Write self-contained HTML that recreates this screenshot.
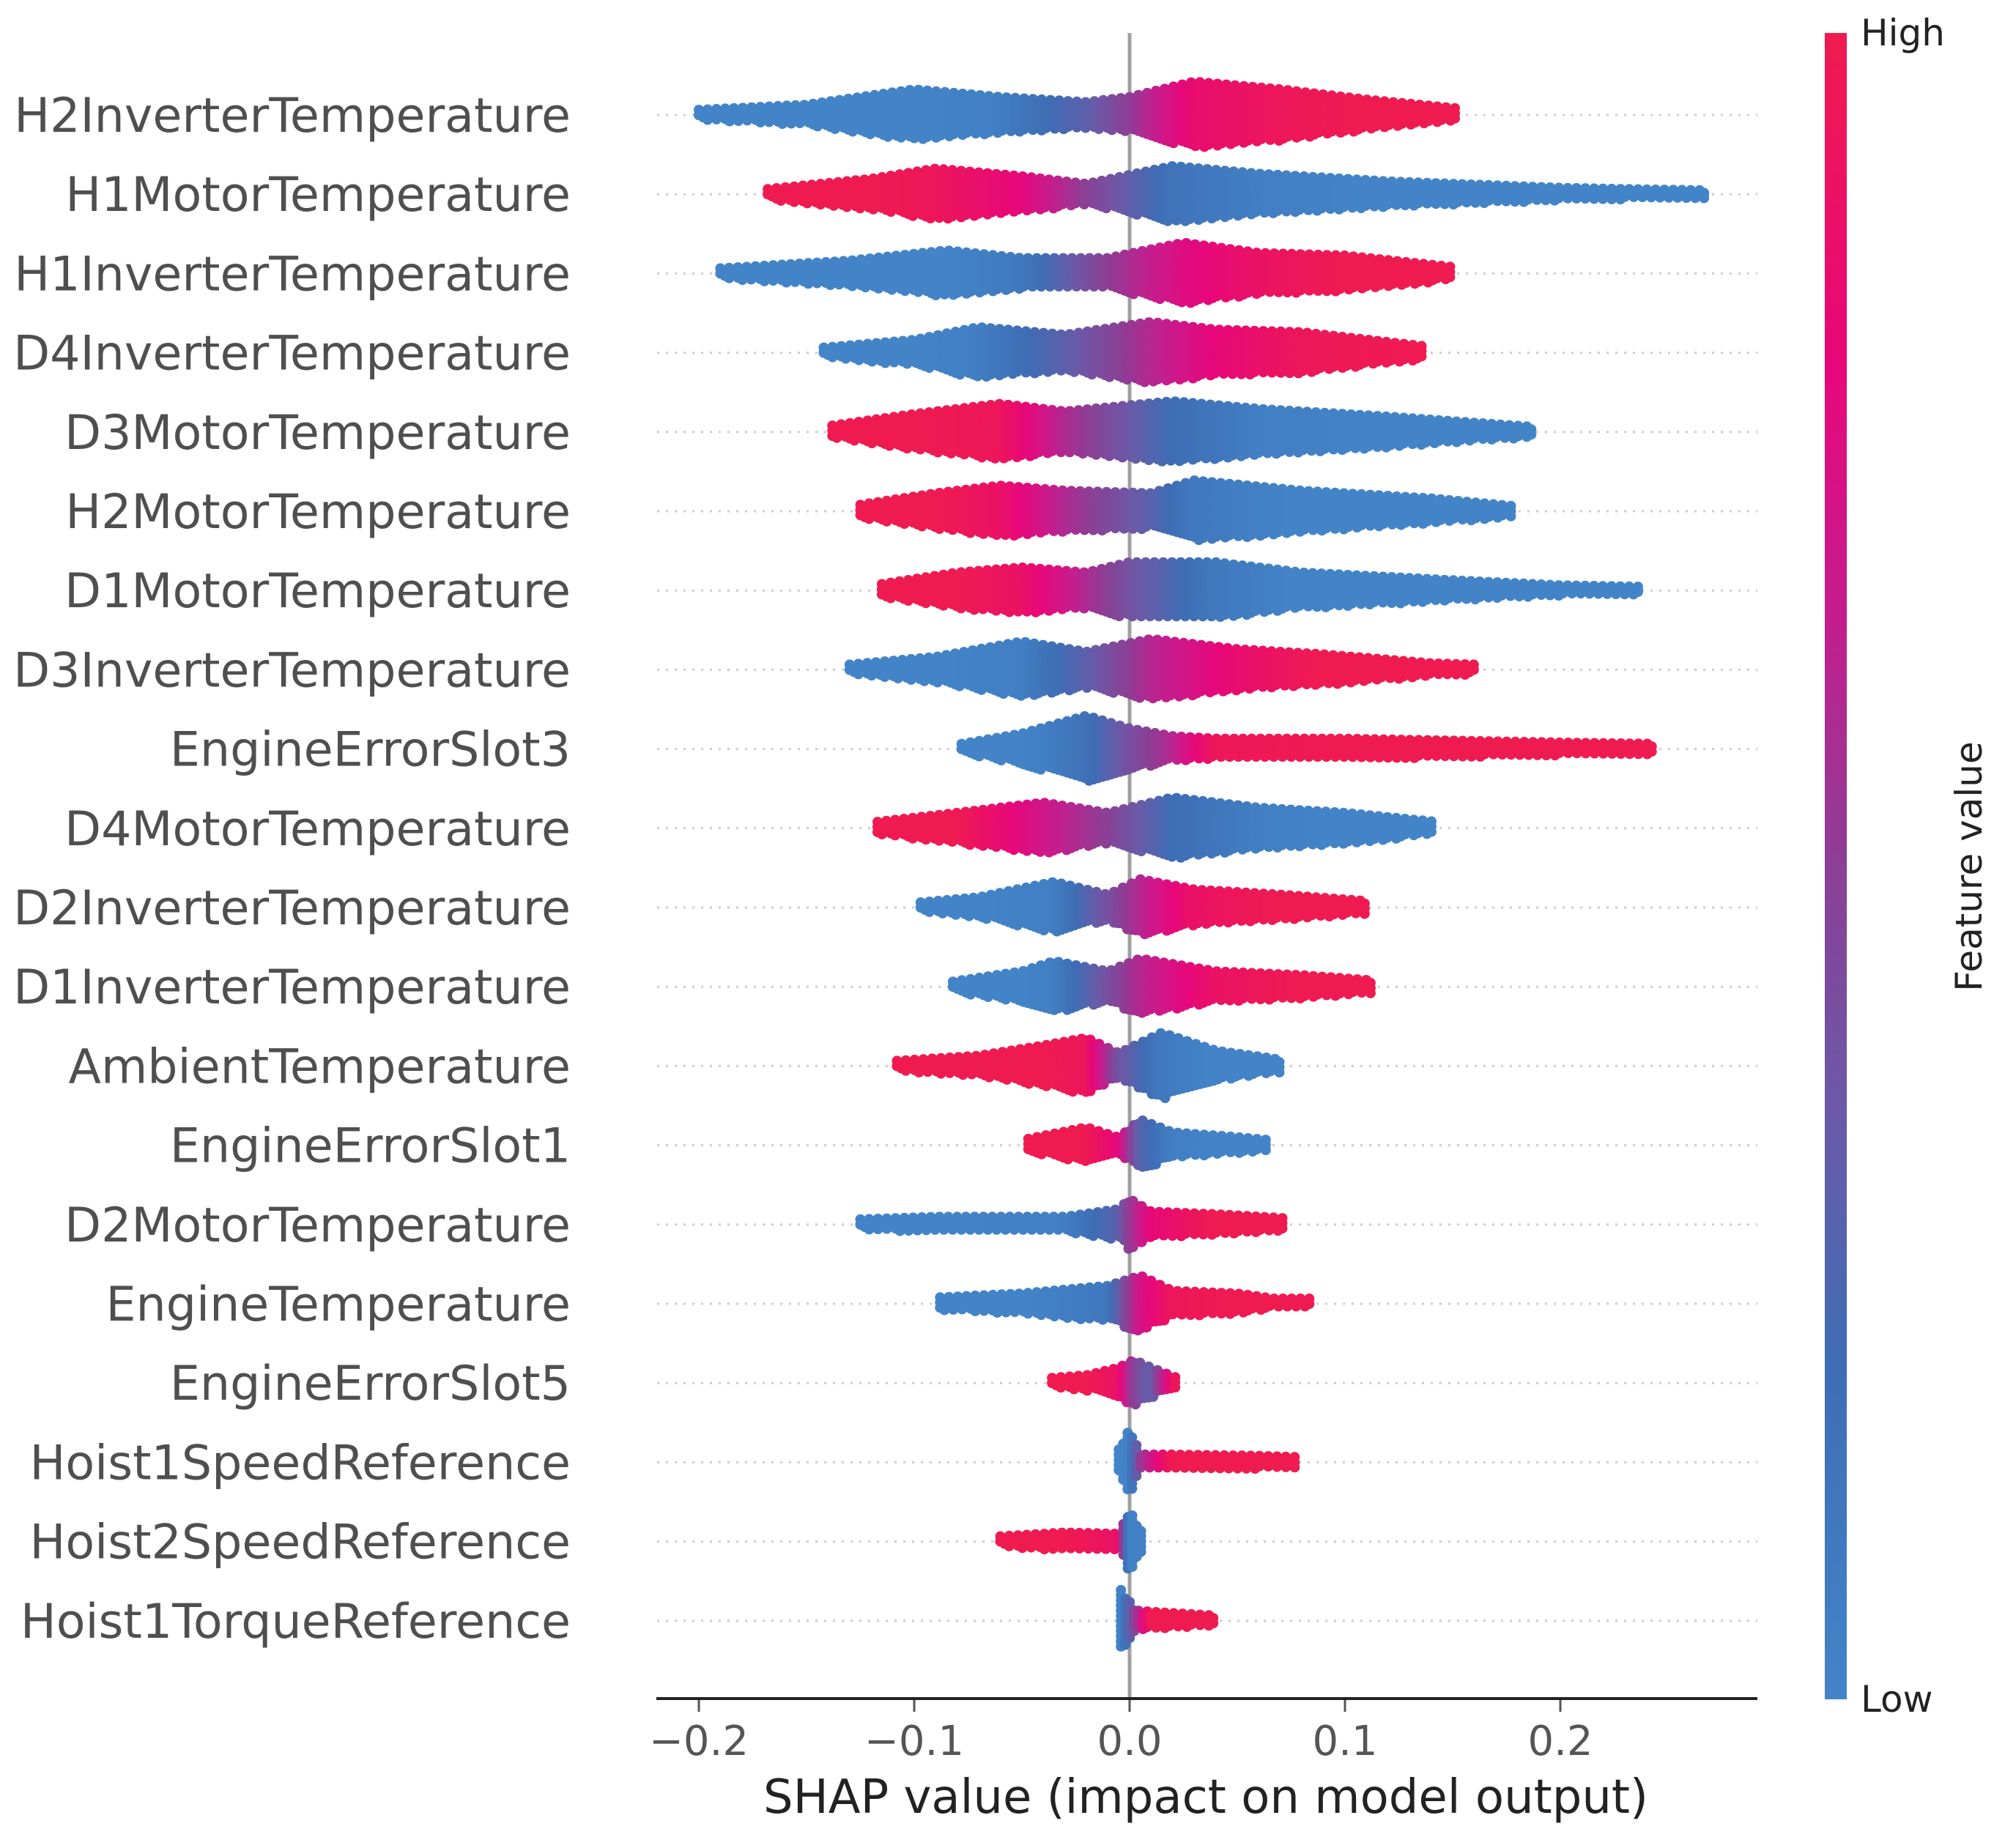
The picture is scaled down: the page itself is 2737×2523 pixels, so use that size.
<!DOCTYPE html>
<html><head><meta charset="utf-8"><style>
html,body{margin:0;padding:0;background:#fff;}
svg{display:block;}
text{font-family:"DejaVu Sans","Liberation Sans",sans-serif;}
</style></head><body>
<svg id="chart" width="2737" height="2523" viewBox="0 0 2737 2523" xmlns="http://www.w3.org/2000/svg">
<defs>
<linearGradient id="cbar" x1="0" y1="1" x2="0" y2="0">
<stop offset="0" stop-color="#4384c8"/>
<stop offset="0.2" stop-color="#3e6db5"/>
<stop offset="0.35" stop-color="#6a5aa7"/>
<stop offset="0.5" stop-color="#8b3f95"/>
<stop offset="0.65" stop-color="#c51d8e"/>
<stop offset="0.8" stop-color="#e7077a"/>
<stop offset="1" stop-color="#ef1b50"/>
</linearGradient>
</defs>
<g id="grid"></g>
<line x1="1542" y1="45" x2="1542" y2="2318" stroke="#a0a0a0" stroke-width="5"/>
<g id="dots"></g>
<g id="labels"></g>
<line x1="896" y1="2319" x2="2399" y2="2319" stroke="#222" stroke-width="4"/>
<g id="xticks"></g>
<text x="1646" y="2475" font-size="64" text-anchor="middle" fill="#222">SHAP value (impact on model output)</text>
<rect x="2491" y="45" width="30" height="2275" fill="url(#cbar)"/>
<text x="2540" y="62" font-size="50" fill="#222">High</text>
<text x="2540" y="2337" font-size="50" fill="#222">Low</text>
<text x="0" y="0" font-size="50" fill="#222" text-anchor="middle" transform="translate(2705,1183) rotate(-90)">Feature value</text>
</svg>
<script>
const features = ["H2InverterTemperature","H1MotorTemperature","H1InverterTemperature","D4InverterTemperature","D3MotorTemperature","H2MotorTemperature","D1MotorTemperature","D3InverterTemperature","EngineErrorSlot3","D4MotorTemperature","D2InverterTemperature","D1InverterTemperature","AmbientTemperature","EngineErrorSlot1","D2MotorTemperature","EngineTemperature","EngineErrorSlot5","Hoist1SpeedReference","Hoist2SpeedReference","Hoist1TorqueReference"];
const tickValues = [-0.2,-0.1,0.0,0.1,0.2];
const tickLabels = ["\u22120.2","\u22120.1","0.0","0.1","0.2"];
// per-feature density profile: SHAP value, swarm half-width (relative), feature value (0 low .. 1 high)
const shapKnots = [
 [-0.2,-0.15,-0.1,-0.06,-0.02,0.0,0.03,0.07,0.11,0.153],
 [-0.168,-0.12,-0.09,-0.05,-0.02,0.02,0.06,0.12,0.2,0.23,0.268],
 [-0.19,-0.13,-0.085,-0.05,-0.01,0.025,0.06,0.1,0.15],
 [-0.142,-0.1,-0.07,-0.03,0.01,0.04,0.08,0.137],
 [-0.138,-0.1,-0.06,-0.03,0.02,0.06,0.12,0.187],
 [-0.125,-0.09,-0.06,-0.03,0.01,0.03,0.08,0.14,0.178],
 [-0.115,-0.08,-0.05,-0.02,0.0,0.04,0.08,0.15,0.2,0.236],
 [-0.13,-0.09,-0.05,-0.02,0.01,0.05,0.09,0.14,0.16],
 [-0.078,-0.05,-0.02,0.0,0.02,0.04,0.1,0.2,0.243],
 [-0.117,-0.08,-0.04,-0.01,0.02,0.06,0.1,0.142],
 [-0.097,-0.07,-0.035,-0.01,0.005,0.03,0.07,0.11],
 [-0.082,-0.05,-0.035,-0.01,0.005,0.04,0.08,0.112],
 [-0.108,-0.07,-0.04,-0.02,-0.005,0.015,0.04,0.07],
 [-0.047,-0.02,-0.005,0.005,0.02,0.045,0.065],
 [-0.125,-0.09,-0.03,-0.005,0.0,0.01,0.04,0.071],
 [-0.088,-0.05,-0.01,0.005,0.02,0.05,0.067,0.085],
 [-0.036,-0.02,-0.005,0.002,0.01,0.022],
 [-0.005,0.0,0.005,0.02,0.06,0.078],
 [-0.06,-0.03,-0.005,0.0,0.006],
 [-0.004,0.003,0.01,0.04]
];
const spreadKnots = [
 [4,8,20,14,10,14,26,20,12,5],
 [4,12,20,14,8,22,16,10,5,4,3],
 [4,10,18,12,12,24,16,14,5],
 [4,10,20,14,24,18,16,5],
 [5,14,22,16,24,18,12,4],
 [5,14,20,16,14,24,16,10,4],
 [5,14,18,14,22,22,14,8,4,3],
 [4,10,22,14,24,16,12,5,4],
 [4,12,26,16,10,8,8,5,4],
 [5,12,20,12,24,16,12,5],
 [4,8,20,10,22,14,10,5],
 [4,12,20,12,22,12,9,5],
 [4,8,16,22,10,26,12,5],
 [5,14,6,20,10,7,4],
 [4,6,6,12,20,10,8,5],
 [5,8,14,22,10,8,4,4],
 [4,6,12,18,12,4],
 [10,26,6,6,5,4],
 [4,7,6,24,6],
 [24,8,7,4]
];
const featureValueKnots = [
 [0,0,0,0.05,0.3,0.5,0.85,0.95,1,1],
 [1,1,0.95,0.8,0.5,0.15,0.05,0,0,0,0],
 [0,0,0,0.1,0.5,0.75,0.9,1,1],
 [0,0,0.05,0.3,0.6,0.8,0.95,1],
 [1,1,0.95,0.6,0.2,0.05,0,0],
 [1,1,0.9,0.6,0.3,0.1,0,0,0],
 [1,1,0.9,0.6,0.4,0.1,0,0,0,0],
 [0,0,0.05,0.3,0.6,0.85,1,1,1],
 [0,0,0.15,0.4,0.6,0.95,1,1,1],
 [1,1,0.7,0.5,0.2,0.05,0,0],
 [0,0,0.05,0.4,0.6,0.9,1,1],
 [0,0,0.05,0.4,0.6,0.9,1,1],
 [1,1,1,0.95,0.4,0.1,0,0],
 [1,1,0.8,0.3,0.05,0,0],
 [0,0,0.05,0.3,0.5,0.8,1,1],
 [0,0,0.1,0.7,0.95,1,1,1],
 [1,1,0.9,0.5,0.3,1],
 [0,0.02,0.5,1,1,1],
 [1,1,0.9,0.02,0.05],
 [0.02,0.5,1,1]
];
const NS='http://www.w3.org/2000/svg';
const X0=1542, PX_PER_UNIT=2940, ROW0=157, ROWH=108.2, SCALE=1.745;
function xScale(v){return X0+v*PX_PER_UNIT;}
function yScale(i){return ROW0+i*ROWH;}
const cmapStops=[[0,[67,132,200]],[0.2,[62,109,181]],[0.35,[106,90,167]],[0.5,[139,63,149]],[0.65,[197,29,142]],[0.8,[231,7,122]],[1,[239,27,80]]];
function cmap(t){t=Math.max(0,Math.min(1,t));for(let k=1;k<cmapStops.length;k++){if(t<=cmapStops[k][0]){const a=cmapStops[k-1],b=cmapStops[k];const f=(t-a[0])/(b[0]-a[0]);const c=a[1].map((v,j)=>Math.round(v+(b[1][j]-v)*f));return 'rgb('+c.join(',')+')';}}return 'rgb(239,27,80)';}
function interp(xs,ys,x){if(x<=xs[0])return ys[0];for(let k=1;k<xs.length;k++){if(x<=xs[k]){const f=(x-xs[k-1])/(xs[k]-xs[k-1]);return ys[k-1]+(ys[k]-ys[k-1])*f;}}return ys[ys.length-1];}
const grid=document.getElementById('grid'), dots=document.getElementById('dots'), labels=document.getElementById('labels'), xt=document.getElementById('xticks');
features.forEach((name,i)=>{
  const y=yScale(i);
  const gl=document.createElementNS(NS,'line');
  gl.setAttribute('x1',897);gl.setAttribute('x2',2399);gl.setAttribute('y1',y);gl.setAttribute('y2',y);
  gl.setAttribute('stroke','#cccccc');gl.setAttribute('stroke-width','3');gl.setAttribute('stroke-dasharray','3,9');
  
  
  grid.appendChild(gl);
  const t=document.createElementNS(NS,'text');
  t.setAttribute('x',779);t.setAttribute('y',y+23);t.setAttribute('text-anchor','end');t.setAttribute('font-size','65');t.setAttribute('fill','#4f4f4f');
  t.textContent=name;
  
  
  labels.appendChild(t);
  const g=document.createElementNS(NS,'g');
  
  
  const xs=shapKnots[i], hs=spreadKnots[i], fv=featureValueKnots[i];
  const xa=xScale(xs[0]), xb=xScale(xs[xs.length-1]);
  let col=0;
  for(let px=xa; px<=xb+0.1; px+=6){
    const v=(px-X0)/PX_PER_UNIT;
    const h=interp(xs,hs,v)*SCALE;
    const c=cmap(interp(xs,fv,v));
    const off=(col%2)*3.5;
    for(let dy=-h+off; dy<=h; dy+=7){
      const ci=document.createElementNS(NS,'circle');
      ci.setAttribute('cx',px.toFixed(1));ci.setAttribute('cy',(y+dy).toFixed(1));ci.setAttribute('r','7');ci.setAttribute('fill',c);
      g.appendChild(ci);
    }
    if(h<7){const ci=document.createElementNS(NS,'circle');ci.setAttribute('cx',px.toFixed(1));ci.setAttribute('cy',y);ci.setAttribute('r','7');ci.setAttribute('fill',c);g.appendChild(ci);}
    col++;
  }
  dots.appendChild(g);
});
tickValues.forEach((v,k)=>{
  const x=xScale(v);
  const l=document.createElementNS(NS,'line');
  l.setAttribute('x1',x);l.setAttribute('x2',x);l.setAttribute('y1',2321);l.setAttribute('y2',2337);l.setAttribute('stroke','#555');l.setAttribute('stroke-width','3');
  
  
  xt.appendChild(l);
  const t=document.createElementNS(NS,'text');
  t.setAttribute('x',x);t.setAttribute('y',2396);t.setAttribute('text-anchor','middle');t.setAttribute('font-size','56');t.setAttribute('fill','#555');
  t.textContent=tickLabels[k];
  
  
  xt.appendChild(t);
});
</script>
</body></html>
